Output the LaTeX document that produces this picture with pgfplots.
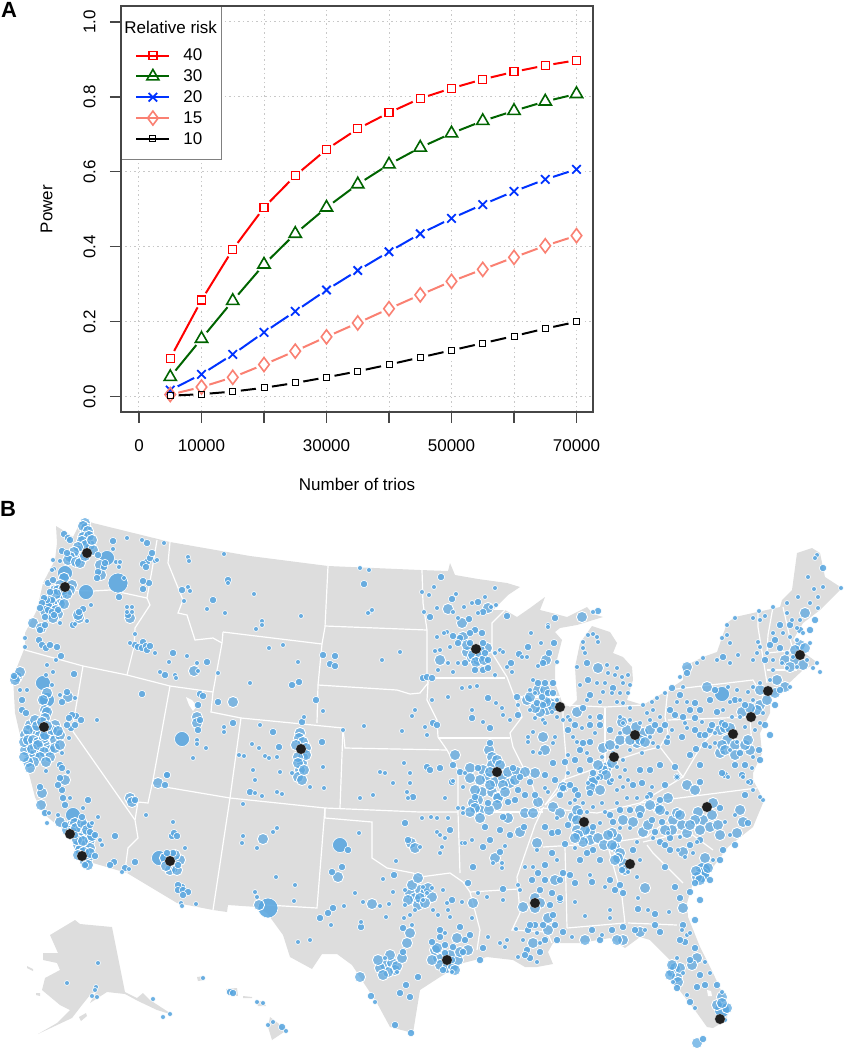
\documentclass[border=0pt]{standalone}
\usepackage{fontspec}
\setmainfont{Liberation Sans}
\usepackage{pgfplots}
\usepackage{pgfplotstable}
\pgfplotsset{compat=1.18}
\definecolor{mapgray}{RGB}{221,221,221}
\definecolor{bubble}{RGB}{88,166,224}
\definecolor{salmonline}{RGB}{250,128,114}
\definecolor{darkg}{RGB}{0,100,0}
\definecolor{blueline}{RGB}{0,51,255}
\definecolor{axisgray}{RGB}{70,70,70}
\definecolor{gridgray}{RGB}{200,200,200}
\newcommand\lab{\fontsize{17}{20}\selectfont}

\pgfplotstableread{
n     r40   r30   r20   r15   r10
5000  0.103 0.053 0.018 0.006 0.003
10000 0.258 0.155 0.060 0.026 0.007
15000 0.393 0.256 0.113 0.052 0.014
20000 0.505 0.353 0.172 0.086 0.024
25000 0.590 0.435 0.228 0.122 0.037
30000 0.660 0.505 0.285 0.160 0.052
35000 0.715 0.567 0.337 0.197 0.068
40000 0.758 0.620 0.387 0.235 0.086
45000 0.796 0.665 0.435 0.272 0.105
50000 0.823 0.703 0.476 0.308 0.124
55000 0.847 0.736 0.513 0.340 0.143
60000 0.867 0.763 0.548 0.372 0.162
65000 0.884 0.788 0.580 0.403 0.182
70000 0.898 0.808 0.607 0.430 0.200
}\powertab

\pgfplotsset{
  gapmask/.style={only marks, white, mark=*, mark size=8pt, mark options={fill=white, draw=white, solid}, forget plot},
  bub/.style={only marks, mark=*, mark size=#1, mark options={fill=bubble, draw=white, line width=0.6pt, fill opacity=0.88}, forget plot},
  bubl/.style={only marks, mark=*, mark size=#1, mark options={fill=bubble, draw=white, line width=0.9pt, fill opacity=0.72}, forget plot},
  border/.style={white, line width=1.2pt, no marks, forget plot},
  land/.style={fill=mapgray, draw=none, no marks, forget plot},
  m40/.style={red, mark=square, mark size=4pt, mark options={solid, line width=1.3pt}},
  m30/.style={darkg, mark=triangle, mark size=7pt, mark options={solid, line width=1.6pt}},
  m20/.style={blueline, mark=x, mark size=6pt, mark options={solid, line width=1.8pt}},
  m15/.style={salmonline, mark=diamond, mark size=7pt, mark options={solid, line width=1.6pt}},
  m10/.style={black, mark=square, mark size=3pt, mark options={solid, line width=1pt}},
  lastimg/.style={legend image code/.code={\path[draw=none,fill=none] (0pt,-18pt) -- (57pt,4pt); \draw[mark repeat=2, mark phase=2, ##1] plot coordinates {(12pt,0pt)(28.5pt,0pt)(45pt,0pt)};}},
}

\begin{document}
\begin{tikzpicture}[x=1pt,y=1pt]
\useasboundingbox (0,0) rectangle (844,1050);

% ---------- panel B: map, coordinates are image pixels
\begin{axis}[
  at={(0pt,0pt)}, anchor=south west, scale only axis, width=844pt, height=1050pt,
  xmin=0, xmax=844, ymin=0, ymax=1050, y dir=reverse, hide axis, clip=false,
]
\addplot[land] coordinates {
(56,526)(66,532)(73,537)(80,523)(85,520)(93,523)(170,542)(250,556)(328,566)(420,570)(448,571)(450,563)(455,575)(478,579)(507,583)(520,587)(508,595)(493,610)(505,610)(517,617)(530,608)(545,597)(540,610)(552,613)(567,617)(587,607)(593,614)(603,617)(577,625)(560,628)(555,632)(562,640)(555,667)(555,683)(562,702)(570,707)(577,700)(575,667)(580,643)(592,626)(610,632)(617,643)(613,653)(623,657)(632,667)(633,680)(627,700)(643,705)(668,690)(683,680)(683,667)(703,657)(717,652)(727,623)(735,617)(780,607)(782,600)(792,590)(797,553)(812,548)(820,553)(825,577)(842,588)(820,610)(803,623)(793,640)(803,652)(818,663)(803,670)(787,685)(792,687)(770,697)(770,713)(760,733)(762,753)(753,773)(753,780)(760,793)(763,803)(753,827)(728,847)(713,867)(693,883)(687,903)(688,917)(700,947)(713,973)(727,1003)(727,1020)(713,1028)(707,1027)(697,1013)(677,987)(668,970)(670,960)(650,940)(640,937)(625,948)(610,938)(580,943)(553,943)(548,952)(553,964)(537,967)(525,967)(513,960)(487,957)(463,963)(440,977)(420,990)(413,1033)(390,1027)(377,1003)(352,965)(337,954)(322,954)(312,969)(290,957)(283,935)(267,913)(257,907)(228,905)(227,912)(213,910)(177,903)(127,873)(93,863)(80,860)(70,835)(57,825)(43,813)(35,797)(28,770)(15,713)(13,677)(25,647)(25,633)(37,610)(43,583)(55,560)(57,543)
};
% Alaska and islands
\addplot[land] coordinates {(50,935)(75,920)(80,924)(112,927)(125,992)(137,998)(143,993)(150,1000)(173,1015)(157,1010)(138,1001)(125,994)(107,992)(90,1003)(97,990)(90,995)(82,1005)(72,1018)(38,1034)(57,1023)(70,1010)(60,1005)(42,990)(45,978)(60,970)(57,963)(43,960)(43,953)(58,953)};
\addplot[land] coordinates {(79,1017)(86,1013)(87,1016)(81,1021)};
\addplot[land] coordinates {(27,966)(33,969)(33,971)(27,968)};
\addplot[land] coordinates {(270,1017)(287,1030)(272,1040)(268,1027)};
\addplot[land] coordinates {(256,1001)(263,1001)(266,1006)(258,1006)};
\addplot[land] coordinates {(226,989)(237,988)(238,996)(229,995)};
\addplot[land] coordinates {(197,977)(204,976)(205,980)(198,981)};
\addplot[land] coordinates {(243,996)(252,997)(252,998)(243,998)};
\addplot[land] coordinates {(36,993)(40,993)(40,996)(36,995)};
% lakes
\addplot[fill=white, draw=none, no marks, forget plot] coordinates {(186,697)(192,700)(197,706)(193,711)(189,705)};
\addplot[fill=white, draw=none, no marks, forget plot] coordinates {(707,990)(711,991)(712,996)(708,996)};
% state lines
\addplot[border] coordinates {(40,582)(60,590)(93,591)(110,590)(147,598)};
\addplot[border] coordinates {(157,540)(152,570)(147,598)(150,605)(135,628)(134,647)(127,675)};
\addplot[border] coordinates {(25,650)(83,666)(127,675)(170,686)(213,692)};
\addplot[border] coordinates {(83,666)(72,730)(135,820)(138,838)(128,848)(126,863)(127,873)};
\addplot[border] coordinates {(170,686)(153,780)(148,803)(138,802)(135,820)};
\addplot[border] coordinates {(153,785)(230,798)(325,808)(420,812)(458,812)};
\addplot[border] coordinates {(241,718)(230,798)(213,910)};
\addplot[border] coordinates {(213,692)(211,712)(241,718)(343,728)(345,748)(447,750)};
\addplot[border] coordinates {(343,728)(340,808)};
\addplot[border] coordinates {(223,632)(322,644)};
\addplot[border] coordinates {(213,692)(222,643)(223,632)};
\addplot[border] coordinates {(170,542)(168,563)(183,600)(178,613)(187,615)(195,640)(213,638)(222,643)};
\addplot[border] coordinates {(328,566)(325,627)(322,644)(318,685)(317,723)};
\addplot[border] coordinates {(325,626)(427,630)};
\addplot[border] coordinates {(422,570)(423,603)(427,630)(427,677)(428,683)};
\addplot[border] coordinates {(318,685)(397,690)(410,694)(420,693)(428,683)(427,700)(437,720)(438,737)(447,750)(458,770)(458,812)(460,873)};
\addplot[border] coordinates {(427,678)(505,678)};
\addplot[border] coordinates {(438,738)(510,738)};
\addplot[border] coordinates {(505,610)(492,623)(492,653)(507,677)(513,693)(522,717)(510,733)(513,747)(533,787)(540,810)(543,808)(535,825)(517,877)(518,889)(520,913)(512,930)(547,932)(552,943)};
\addplot[border] coordinates {(517,697)(560,697)};
\addplot[border] coordinates {(563,705)(563,720)(567,770)(563,787)(545,805)};
\addplot[border] coordinates {(545,805)(563,780)(597,768)(617,760)(647,750)(660,747)(668,733)(665,717)(667,697)(668,690)};
\addplot[border] coordinates {(605,708)(605,763)};
\addplot[border] coordinates {(565,705)(605,707)(643,705)};
\addplot[border] coordinates {(668,690)(753,680)(763,697)};
\addplot[border] coordinates {(668,720)(750,717)(752,747)};
\addplot[border] coordinates {(758,610)(758,627)(767,683)};
\addplot[border] coordinates {(773,607)(768,635)(767,653)(797,650)};
\addplot[border] coordinates {(783,607)(792,647)};
\addplot[border] coordinates {(767,670)(797,670)};
\addplot[border] coordinates {(543,808)(597,813)(640,803)(757,788)};
\addplot[border] coordinates {(683,777)(703,743)(720,727)};
\addplot[border] coordinates {(660,747)(683,777)(640,803)};
\addplot[border] coordinates {(543,847)(607,843)(647,837)(665,822)(683,810)};
\addplot[border] coordinates {(463,812)(543,812)};
\addplot[border] coordinates {(470,892)(518,889)};
\addplot[border] coordinates {(470,892)(480,930)(477,950)};
\addplot[border] coordinates {(463,882)(470,892)};
\addplot[border] coordinates {(565,847)(567,928)};
\addplot[border] coordinates {(607,843)(622,897)(625,923)};
\addplot[border] coordinates {(567,928)(625,923)};
\addplot[border] coordinates {(628,923)(677,925)};
\addplot[border] coordinates {(647,845)(653,853)(683,883)};
\addplot[border] coordinates {(643,842)(673,835)(690,833)(713,850)};
\addplot[border] coordinates {(325,808)(325,818)(372,822)(372,858)(387,868)(413,873)(420,877)(450,873)(463,882)};
\addplot[border] coordinates {(325,808)(317,908)(267,905)};

% bubbles, largest first
\addplot[bub=10pt] coordinates {(118,583)(268,908)};
\addplot[bub=7.5pt] coordinates {(107,558)(65,573)(43,683)(47,700)(73,815)(159,858)(722,1010)(703,870)(702,875)(722,694)(86,592)(182,739)(340,845)};
\addplot[bubl=5.6pt] coordinates {
(85,523)(86,528)(85,534)(87,540)(84,545)(80,550)(76,556)(73,560)(90,545)(82,558)(100,565)(101,575)(64,578)(60,585)(62,595)(72,585)(70,590)(60,600)(55,590)(50,600)(55,605)(33,623)(41,628)(79,618)(78,615)(130,618)
(17,677)(20,672)(15,680)(47,693)(43,700)(45,710)(47,712)(45,718)(68,697)
(30,725)(35,730)(40,735)(50,735)(45,745)(40,750)(35,755)(30,745)(25,735)(30,755)(50,750)(55,740)(60,735)(55,725)(35,720)(28,730)(25,750)
(65,780)(42,793)(41,805)(60,822)(70,826)(75,823)(80,830)(85,826)(85,835)(80,838)(78,845)(85,845)(90,840)(80,850)(90,848)(85,862)(88,858)(80,850)
(180,860)(173,868)(170,870)(130,798)(132,802)(158,783)(197,717)(197,723)(194,671)(259,905)(233,702)
(300,733)(303,757)(302,763)(300,770)(298,777)(302,780)(263,839)(338,877)(372,904)(411,843)(415,848)(410,933)(407,943)(360,977)(385,965)(392,963)(395,970)(388,972)(380,968)(397,966)(410,893)(415,898)(420,890)(408,900)(418,905)(425,893)(432,897)(428,888)(420,898)(425,903)
(488,608)(462,623)(448,609)(463,637)(487,648)(467,652)(472,658)(478,660)(440,660)(546,660)(550,703)(577,712)(598,668)(582,617)
(627,730)(643,733)(637,743)(603,748)(607,767)(593,780)(543,737)(545,750)(563,787)
(489,750)(492,757)(492,765)(483,770)(487,778)(495,782)(503,778)(508,772)(517,772)(535,773)(470,768)(455,755)(482,792)(492,792)(498,797)(510,783)(478,800)(473,803)(480,810)(498,798)(480,818)(508,818)(525,813)(533,813)(538,802)(520,832)
(553,807)(560,813)(573,817)(577,810)(593,782)(577,820)(577,830)(582,835)(590,832)(623,820)(633,822)(643,832)(658,808)(668,798)(673,820)(682,825)(687,833)(677,813)(687,785)
(713,803)(703,820)(710,827)(718,825)(740,810)(743,822)(737,833)(705,858)(683,852)(697,877)
(617,838)(615,847)(620,853)(623,863)(612,833)(645,888)(683,908)(697,958)(692,965)(672,972)(677,977)(722,997)(697,1043)
(640,932)(623,940)(617,940)(585,940)(548,930)(548,918)(533,943)(535,898)(540,903)(535,908)(523,907)(555,880)(537,843)
(438,958)(440,965)(447,968)(453,967)(458,960)(457,938)(468,950)(495,858)(473,903)
(805,613)(777,680)(687,667)(707,687)(720,730)(727,740)(720,753)(750,750)
(83,526)(88,531)(83,537)(89,536)(82,541)(86,545)(78,547)(74,552)(70,557)(68,560)(76,562)(80,563)(85,556)(93,550)(92,540)
(58,590)(63,590)(67,594)(56,594)(60,604)(52,603)(50,607)(47,605)(64,604)(56,610)(50,614)(58,614)(53,618)(45,611)
(24,742)(28,740)(33,740)(38,742)(44,738)(37,726)(45,735)(52,730)(58,731)(42,722)(47,726)(32,749)(38,745)(44,752)(50,757)(40,757)(34,762)(46,762)(28,762)(30,768)(24,757)(55,748)(60,745)
(67,830)(72,832)(76,828)(82,823)(77,840)(83,841)(87,830)(92,836)(84,852)(88,865)(90,853)(78,855)
(165,858)(175,855)(177,870)(166,866)
(299,738)(303,742)(306,748)(296,745)(306,755)(298,757)(298,763)(304,770)
(480,650)(473,655)(480,657)(476,662)(467,645)(484,660)
(547,710)(553,707)(540,712)(546,702)(535,708)(527,700)(538,690)(545,690)(530,697)
(497,760)(500,765)(490,772)(503,785)(490,785)(480,780)(470,778)(505,792)(497,805)(489,810)(475,808)(470,812)(475,790)(515,780)(525,772)
(620,740)(610,745)(630,740)(640,740)(645,742)(650,730)(622,722)(636,727)(612,763)(603,770)(598,765)(606,775)(591,788)(600,790)
(585,830)(578,835)(590,840)(583,842)(575,838)(598,838)(604,845)(612,845)(618,858)(625,870)(615,860)(608,835)
(698,812)(695,820)(700,830)(712,815)(720,835)(690,825)(680,815)(672,830)(665,830)(660,810)(650,805)(640,810)(648,825)(695,790)
(725,728)(730,728)(735,745)(722,745)(725,750)(745,745)(735,755)(748,740)(760,705)(757,710)(742,712)(750,708)(767,700)(775,693)(785,687)(760,690)
(785,660)(795,660)(790,667)(803,665)(800,645)(795,650)(805,648)
(717,1005)(727,1008)(722,1003)(696,871)(708,868)(700,880)(675,968)(680,968)(670,975)(678,982)(672,965)
(435,950)(450,955)(460,952)(432,960)(437,948)(455,970)(412,885)(418,878)(378,960)(402,958)(390,955)(383,975)
};
\addplot[bub=3.7pt] coordinates {
(64,534)(68,538)(70,540)(62,551)(67,553)(98,555)(104,567)(98,572)(97,578)(105,563)(113,541)(147,543)(119,597)(143,589)(149,583)(143,581)(147,562)(143,564)(150,558)(152,553)(146,567)
(52,600)(50,592)(47,600)(44,598)(42,603)(48,610)(52,612)(58,610)(54,615)(45,617)(40,608)(48,583)(53,580)(45,625)(40,630)(39,640)(42,645)(46,648)(50,645)(57,647)(61,656)(83,609)(79,612)(73,625)(128,615)
(143,642)(135,645)(138,647)(142,648)(146,646)(147,650)(150,646)(173,653)(165,675)(207,662)(182,590)(213,600)(228,580)(364,584)(292,685)(299,682)(323,655)(335,656)(330,664)(335,666)(316,700)(218,702)(142,694)
(74,674)(14,676)(22,700)(22,710)(26,713)(67,692)(62,702)(76,716)(72,715)(69,718)(81,720)(71,728)(75,725)(67,725)(60,765)(62,768)(60,778)(62,790)(58,785)
(40,787)(45,813)(63,798)(65,805)(88,800)(82,817)(65,825)(90,825)(90,832)(95,835)(75,835)(115,836)(95,856)(85,865)(114,862)(110,865)(135,862)(125,868)
(173,853)(167,853)(178,865)(182,887)(178,885)(178,890)(183,890)(188,892)(183,895)(172,836)(174,833)(177,836)(167,775)(165,785)(135,800)
(200,694)(203,696)(198,705)(200,720)(198,730)(167,775)(233,723)(302,722)(322,742)(279,747)(273,732)(250,792)
(413,797)(405,823)(348,850)(332,872)(342,867)(333,908)(328,913)(320,918)(361,927)(394,875)(408,840)(418,977)(371,996)(400,993)(406,985)(410,997)(395,1025)(403,928)(411,1033)(403,952)
(441,577)(452,599)(478,602)(483,612)(430,617)(469,619)(507,616)(555,618)(598,611)
(475,630)(470,633)(482,633)(460,638)(458,643)(470,643)(483,643)(485,653)(488,660)(465,663)(475,670)(483,670)(488,668)(453,636)(423,678)(427,677)(432,678)(511,663)(519,654)(528,647)(554,643)(549,653)(543,663)
(538,683)(545,683)(553,683)(542,697)(548,693)(553,693)(537,703)(543,705)(517,697)(518,715)(488,698)(472,718)(490,728)(433,723)(437,725)
(587,663)(588,680)(613,688)(590,695)(583,708)(600,717)(672,688)(683,717)(675,715)(695,703)(695,718)(682,737)(675,767)(696,749)(667,742)
(583,743)(590,742)(580,750)(593,773)(600,777)(553,763)(490,743)(478,768)(513,768)(520,777)(530,782)(460,772)(453,765)(440,768)(427,767)(430,770)(452,782)(518,790)(475,797)(488,803)(508,802)(485,827)(503,817)(524,827)
(563,788)(545,827)(552,833)(558,832)(568,825)(575,790)(590,793)(610,782)(633,785)(642,783)(593,827)(580,812)(613,822)(652,820)(662,822)(700,782)(677,777)(725,775)(742,775)(750,782)(745,795)
(720,808)(748,823)(723,850)(665,867)(660,842)(670,838)(695,883)(690,892)(680,898)(675,887)(593,850)(587,853)(565,844)(592,882)(633,850)(622,870)
(638,909)(655,914)(683,925)(685,942)(695,948)(677,988)(697,987)(717,985)(690,1002)(703,1039)
(635,930)(623,927)(592,930)(563,932)(557,940)(553,915)(560,900)(527,950)(540,952)(530,958)(552,893)(538,873)(532,880)(563,873)(560,898)(552,853)(575,883)(615,890)(623,893)
(445,953)(443,970)(432,942)(440,937)(453,947)(463,952)(483,948)(460,927)(483,847)(500,852)(473,867)(468,883)(452,900)(503,889)
(823,568)(780,648)(687,673)(723,657)(717,712)(722,723)(740,753)(759,750)(722,773)(780,690)
(610,730)(600,725)(590,725)(575,725)(568,730)(590,760)(575,760)(565,762)(580,770)(570,785)(578,795)(560,795)(555,780)(545,775)(660,730)(655,725)(665,725)(670,710)(690,710)(680,695)(700,710)(710,700)(715,690)(700,735)(695,730)(710,730)(705,745)(690,755)(700,765)(660,765)(650,770)(640,770)(665,785)(650,795)(660,800)(620,810)(630,810)(610,815)(640,815)(655,832)(665,845)(670,850)(700,840)(690,845)(735,845)(720,860)(710,880)(700,900)(695,920)(580,860)(600,860)(610,880)(620,885)(545,865)(545,880)(540,890)(560,880)(570,875)(550,905)(555,925)(543,925)(528,930)(535,925)(525,955)(545,940)(530,925)(500,830)(490,840)(510,835)(515,800)(525,795)(535,795)(450,830)(452,960)(465,940)(445,945)(470,935)(480,960)(440,930)(600,940)(612,930)(655,925)(660,932)(680,940)(690,960)(700,975)(705,985)(760,760)(745,765)(735,765)(770,735)(765,725)(775,705)(745,705)(735,700)(725,725)(712,725)(705,735)(800,630)(790,625)(780,625)(775,640)(770,645)(765,660)(810,630)(815,620)
(230,992)(233,993)(282,1027)
};
\addplot[bub=2.5pt] coordinates {
(113,549)(116,562)(120,562)(119,567)(127,538)(142,540)(164,543)(53,560)(60,561)(54,569)(52,570)(124,578)(155,561)(157,560)(25,638)(25,647)(56,660)(91,605)(75,624)(87,621)(60,623)(127,607)(132,607)(127,612)(132,612)(135,634)(130,643)(155,653)(187,656)(169,662)(160,672)(175,675)(176,678)(197,663)(198,671)(218,673)
(188,557)(189,561)(224,554)(228,583)(188,587)(190,591)(184,601)(207,609)(225,613)(254,594)(262,621)(262,625)(256,629)(301,616)(283,645)(269,648)(298,662)(250,683)(323,711)(360,568)(369,570)(370,612)(368,613)(372,610)(382,660)(400,652)(97,720)(53,672)(47,665)(46,675)(52,685)(27,690)(20,690)(60,695)(75,698)(62,753)(69,738)(46,771)(68,772)
(49,813)(47,823)(70,798)(83,808)(98,817)(92,823)(58,815)(100,840)(102,845)(122,872)(129,869)(181,903)(182,906)(196,904)(185,848)(173,822)(146,815)(197,740)(197,744)(206,748)(193,758)(224,727)(224,732)(304,717)(323,767)(260,725)(252,744)(259,748)(265,756)(269,758)(277,757)(239,755)(244,756)(253,770)(280,772)(292,773)(255,780)(255,793)(262,796)(277,792)(282,794)(310,787)(324,788)(243,804)
(343,730)(364,726)(402,731)(415,710)(412,716)(380,772)(385,773)(404,763)(410,773)(393,783)(410,783)(407,792)(360,798)(373,795)(408,798)(243,836)(242,843)(257,848)(277,828)(273,832)(276,877)(295,885)(294,901)(255,892)(257,897)
(359,833)(331,925)(344,906)(355,893)(363,902)(380,906)(389,904)(393,892)(383,879)(396,861)(386,917)(361,922)(298,942)(310,940)(375,1002)(397,972)(385,958)(405,890)(415,910)(405,905)(410,915)(404,918)(412,925)
(434,587)(422,592)(429,595)(456,594)(424,612)(437,608)(453,612)(458,618)(464,607)(472,603)(485,597)(491,607)(495,588)(496,605)(478,613)(548,625)(593,612)
(447,632)(444,633)(437,637)(440,650)(450,647)(435,651)(438,670)(448,663)(453,672)(458,663)(495,675)(500,650)(495,653)(503,652)(507,667)(522,657)(527,657)(531,633)(541,643)(548,627)(538,666)(557,662)(512,672)
(533,680)(530,690)(535,693)(557,700)(552,712)(557,717)(563,720)(568,717)(530,710)(535,718)(543,720)(545,723)(518,705)(510,720)(462,688)(470,687)(477,686)(448,697)(496,703)(502,708)(503,715)(472,710)(483,722)(425,727)(427,735)(432,700)
(583,642)(588,635)(593,634)(597,637)(598,642)(583,648)(585,653)(577,667)(607,665)(617,668)(608,673)(615,675)(622,677)(628,675)(597,683)(605,683)(623,683)(630,685)(580,685)(603,692)(612,693)(620,693)(628,693)(617,702)(623,703)(600,702)(587,700)
(570,720)(590,717)(620,717)(630,708)(643,705)(652,702)(657,698)(665,693)(683,687)(647,713)(653,710)(660,717)(650,720)(630,720)(623,723)(640,723)(620,733)(650,737)(653,743)(658,747)(617,747)(630,750)(642,753)(677,702)(687,702)(685,723)(687,728)(702,722)(672,730)(668,737)(677,777)
(613,753)(602,757)(617,767)(623,760)(625,770)(588,783)(612,780)(620,777)(628,780)(577,742)(587,753)(573,737)(582,728)(595,733)
(533,732)(528,737)(528,742)(533,752)(553,743)(555,737)(568,755)(568,773)(540,753)(545,788)(548,792)
(465,773)(463,787)(453,781)(445,798)(458,808)(463,808)(463,813)(505,846)
(557,818)(570,803)(575,800)(583,803)(593,807)(602,803)(605,812)(598,778)(617,790)(623,787)(652,787)(617,803)(627,798)(637,798)(647,797)(587,812)(600,823)(620,828)(630,828)(667,813)
(735,815)(725,822)(730,835)(713,860)(697,842)(678,850)(685,857)(693,853)(653,838)(668,833)(680,837)(637,842)(575,848)(590,875)(640,860)(637,877)(628,872)
(669,912)(648,910)(682,930)(687,935)(690,933)(677,958)(683,973)(673,982)(705,962)(710,973)(722,992)(687,995)(695,1008)(725,1020)(763,800)
(645,930)(602,935)(572,937)(537,933)(540,943)(523,940)(518,957)(537,962)(516,929)(533,867)(525,867)(520,890)(557,860)(537,850)(518,885)(575,902)(605,887)(610,910)(610,918)(585,916)(638,898)
(452,972)(445,933)(488,937)(500,943)(507,940)(505,947)(438,915)(450,917)(437,832)(440,835)(445,838)(442,847)(440,853)(420,847)(422,818)(431,817)(437,818)(448,818)(462,843)(465,843)(472,840)(493,863)(502,863)(502,868)(443,890)(447,903)(448,910)(462,902)(478,893)(487,897)(503,900)(472,918)(433,910)(423,900)(427,893)(432,888)(423,887)
(727,625)(735,618)(753,618)(760,620)(765,616)(759,611)(773,607)(722,638)(727,635)(730,643)(798,597)(787,603)(808,577)(817,555)(815,558)(841,588)(814,589)(823,587)(818,597)(810,603)(800,620)(792,620)(818,608)(797,628)(787,613)(773,633)(783,633)(790,637)(797,640)(803,633)(810,643)(787,653)(793,657)(807,660)(817,663)(813,668)(820,672)(782,663)(773,660)(767,653)(757,653)(753,660)(760,647)(758,642)(773,670)(787,668)(797,667)(770,680)(760,683)(753,687)(790,687)(738,655)(730,663)(717,660)(703,658)(697,663)(680,677)(737,690)(728,687)(740,700)(730,702)(723,710)(748,692)(753,700)(763,713)(760,723)(745,727)(755,730)(740,717)(732,717)(715,733)(737,742)(715,743)(710,747)(730,750)(753,757)(752,768)(728,777)(743,777)(748,782)(753,790)(760,797)
(98,963)(67,983)(96,987)(95,990)(92,996)(97,997)(153,999)(163,1017)(170,1014)(203,978)(257,1002)(263,1003)(268,1025)(273,1022)(286,1031)
};
% hubs
\addplot[only marks, mark=*, mark size=5.3pt, mark options={fill=black!88, draw=white, draw opacity=0.6, line width=0.4pt}, forget plot] coordinates {
(87,553)(65,587)(44,727)(70,834)(82,856)(170,861)(301,749)(476,649)(560,707)(497,772)(614,757)(635,735)(733,734)(751,717)(768,691)(800,655)(707,807)(584,822)(630,864)(535,903)(447,960)(720,1019)
};
\end{axis}

% ---------- panel A
\begin{axis}[
  at={(121pt,638pt)}, anchor=south west, scale only axis, width=472pt, height=406pt,
  xmin=-2880, xmax=72640, ymin=-0.0405, ymax=1.0427,
  xtick={0,10000,...,70000}, xticklabels={0,10000,,30000,,50000,,70000},
  ytick={0,0.2,...,1.0},
  yticklabel style={rotate=90, anchor=south, font=\lab, /pgf/number format/fixed, /pgf/number format/fixed zerofill, /pgf/number format/precision=1, /pgf/number format/assume math mode=true, yshift=11pt},
  xticklabel style={font=\lab, yshift=-13pt},
  scaled x ticks=false, scaled y ticks=false,
  tick align=outside, major tick length=11pt, tick pos=left,
  tick style={axisgray, line width=1.1pt},
  axis line style={axisgray, line width=1.3pt},
  grid=major,
  major grid style={gridgray, line width=1pt, dash pattern=on 1.5pt off 3pt},
  xlabel={Number of trios}, ylabel={Power},
  xlabel style={font=\lab, yshift=-20pt},
  ylabel style={font=\lab, yshift=24pt},
  legend cell align=left,
  legend image code/.code={\path[draw=none,fill=none] (0pt,-4pt) -- (57pt,4pt); \draw[mark repeat=2, mark phase=2, #1] plot coordinates {(12pt,0pt)(28.5pt,0pt)(45pt,0pt)};},
  legend style={at={(0,1)}, anchor=north west, draw=black!50, line width=0.8pt, fill=white, font=\lab, inner sep=3pt, row sep=3.5pt},
]
\addlegendimage{legend image code/.code={\path[draw=none,fill=none] (0pt,-15pt) -- (57pt,19pt);}}
\addlegendentry{\makebox[0pt][l]{\hspace{-59pt}Relative risk}}

\addplot[m40, line width=2pt] table[x=n,y=r40] {\powertab};
\addlegendentry{\makebox[33pt][l]{40}}
\addplot[m30, line width=2pt] table[x=n,y=r30] {\powertab};
\addlegendentry{30}
\addplot[m20, line width=2pt] table[x=n,y=r20] {\powertab};
\addlegendentry{20}
\addplot[m15, line width=2pt] table[x=n,y=r15] {\powertab};
\addlegendentry{15}
\addplot[m10, line width=2pt, lastimg] table[x=n,y=r10] {\powertab};
\addlegendentry{10}

% white discs break each line around its points
\addplot[gapmask] table[x=n,y=r40] {\powertab};
\addplot[gapmask] table[x=n,y=r30] {\powertab};
\addplot[gapmask] table[x=n,y=r20] {\powertab};
\addplot[gapmask] table[x=n,y=r15] {\powertab};
\addplot[gapmask] table[x=n,y=r10] {\powertab};

\addplot[only marks, forget plot, m40] table[x=n,y=r40] {\powertab};
\addplot[only marks, forget plot, m30] table[x=n,y=r30] {\powertab};
\addplot[only marks, forget plot, m20] table[x=n,y=r20] {\powertab};
\addplot[only marks, forget plot, m15] table[x=n,y=r15] {\powertab};
\addplot[only marks, forget plot, m10] table[x=n,y=r10] {\powertab};
\end{axis}
\draw[axisgray, line width=1.3pt] (121,880) -- (121,1044) -- (230,1044);

\node[anchor=base west, inner sep=0pt, font=\fontsize{22}{24}\selectfont\bfseries] at (1,1032) {A};
\node[anchor=base west, inner sep=0pt, font=\fontsize{22}{24}\selectfont\bfseries] at (0,533) {B};
\end{tikzpicture}
\end{document}
